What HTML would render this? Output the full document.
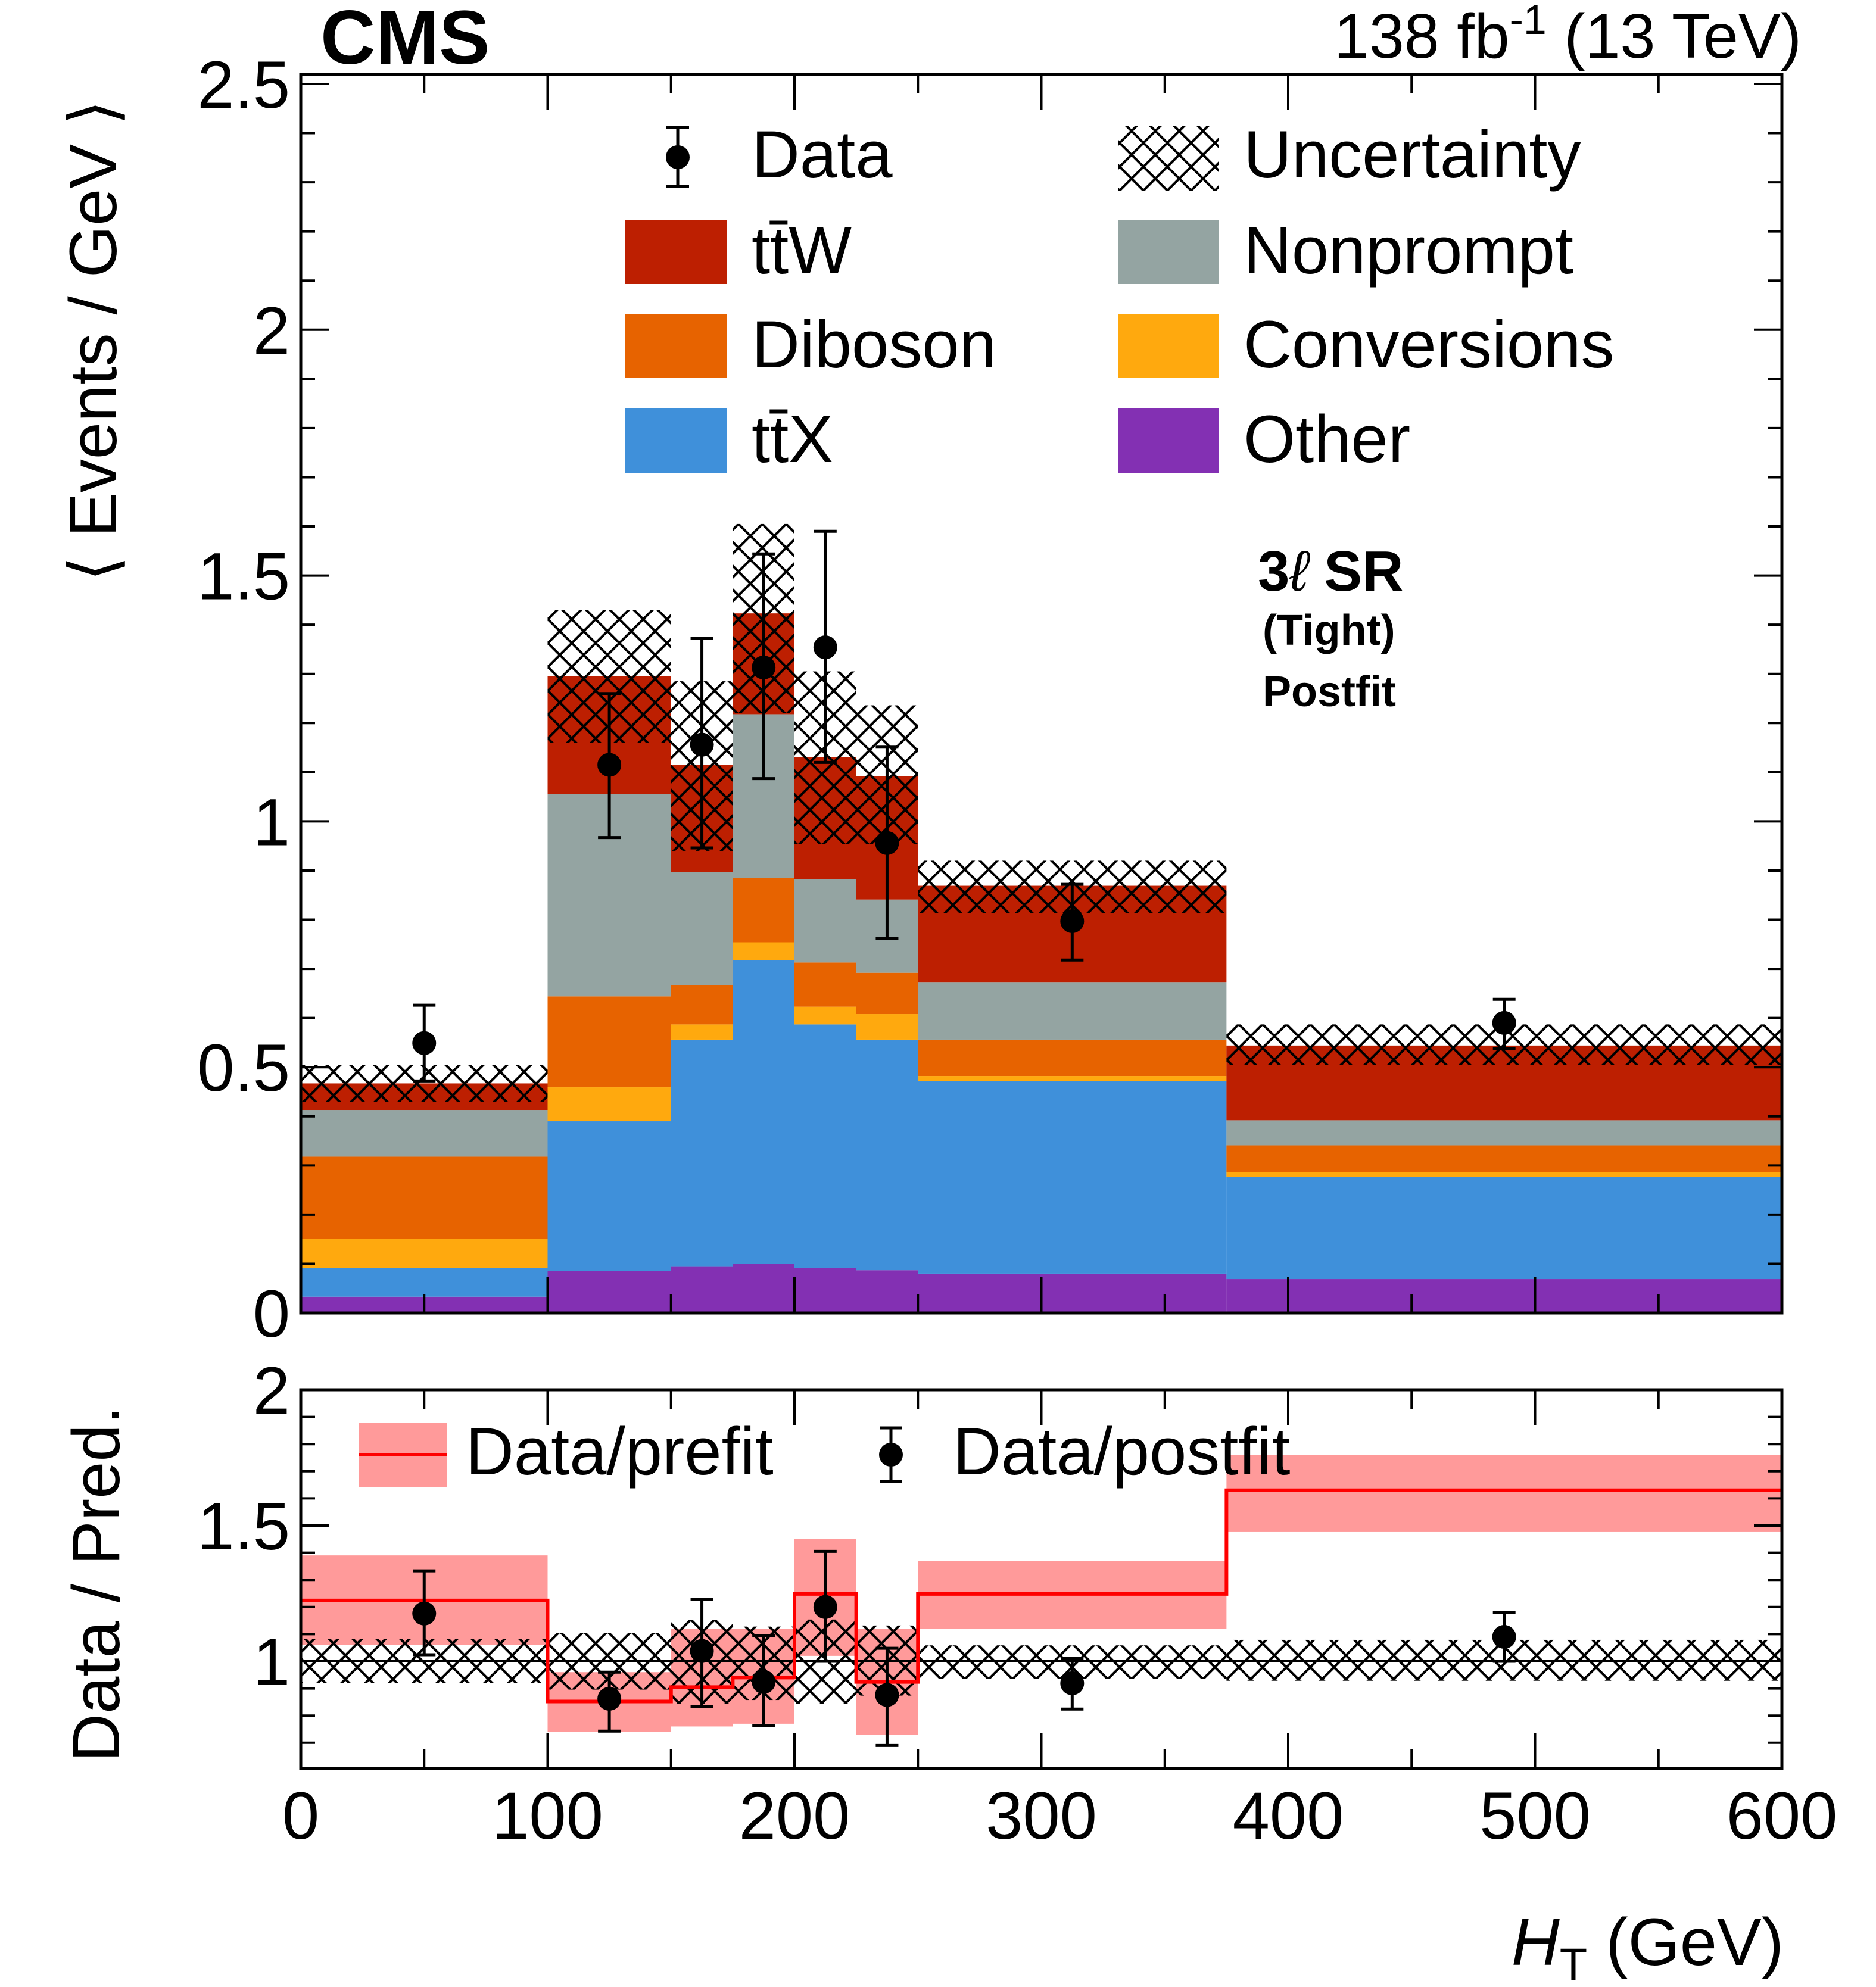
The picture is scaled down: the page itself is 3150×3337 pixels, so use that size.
<!DOCTYPE html>
<html><head><meta charset="utf-8"><style>
html,body{margin:0;padding:0;background:#fff}
svg{display:block}
text{font-family:"Liberation Sans",Arial,sans-serif;fill:#000}
</style></head><body>
<svg id="chart" xmlns="http://www.w3.org/2000/svg" width="3150" height="3337" viewBox="0 0 3150 3337">
<defs>
<pattern id="hatch" patternUnits="userSpaceOnUse" width="40" height="40">
<path d="M-4,-4 L44,44 M-4,44 L44,-4" stroke="#000" stroke-width="4" fill="none"/>
</pattern>
</defs>
<g id="main"></g>
<g id="ratio"></g>
<text x="538" y="107" font-size="128" font-weight="bold">CMS</text>
<text x="3025" y="97" font-size="106" text-anchor="end">138 fb<tspan dy="-40" font-size="70">-1</tspan><tspan dy="40"> (13 TeV)</tspan></text>
<text x="2112" y="992" font-size="96" font-weight="bold">3<tspan font-style="italic" font-weight="normal">ℓ</tspan>  SR</text>
<text x="2120" y="1083" font-size="72" font-weight="bold">(Tight)</text>
<text x="2120" y="1186" font-size="72" font-weight="bold">Postfit</text>
<text transform="translate(195,572) rotate(-90)" font-size="112" text-anchor="middle">⟨ Events / GeV ⟩</text>
<text transform="translate(200,2660) rotate(-90)" font-size="112" text-anchor="middle">Data / Pred.</text>
<text x="2995" y="3300" font-size="112" text-anchor="end"><tspan font-style="italic">H</tspan><tspan font-size="76" dy="25">T</tspan><tspan dy="-25"> (GeV)</tspan></text>
<g id="legend"></g>
</svg>
<script>
const edges=[0,100,150,175,200,225,250,375,600];
const other=[0.033,0.085,0.095,0.100,0.092,0.087,0.080,0.069];
const ttx=[0.059,0.305,0.461,0.618,0.495,0.469,0.392,0.208];
const conv=[0.059,0.069,0.031,0.036,0.036,0.052,0.010,0.010];
const dibo=[0.167,0.185,0.080,0.131,0.090,0.084,0.074,0.054];
const nonp=[0.095,0.412,0.230,0.333,0.169,0.149,0.116,0.051];
const ttw=[0.054,0.239,0.218,0.205,0.249,0.251,0.197,0.152];
const uncLo=[0.43,1.16,0.94,1.22,0.954,0.954,0.813,0.505];
const uncHi=[0.505,1.43,1.285,1.605,1.305,1.236,0.92,0.587];
const dataY=[0.549,1.115,1.156,1.313,1.354,0.956,0.797,0.590];
const dataHi=[0.626,1.26,1.372,1.544,1.59,1.151,0.872,0.638];
const dataLo=[0.472,0.967,0.946,1.087,1.12,0.762,0.718,0.538];
const prefit=[1.224,0.852,0.905,0.94,1.248,0.924,1.248,1.63];
const prefitHi=[1.39,0.96,1.12,1.12,1.45,1.12,1.37,1.76];
const prefitLo=[1.06,0.74,0.76,0.77,1.02,0.73,1.12,1.476];
const postY=[1.176,0.862,1.038,0.924,1.2,0.876,0.919,1.09];
const postHi=[1.333,0.96,1.229,1.095,1.405,1.048,1.01,1.18];
const postLo=[1.024,0.743,0.833,0.762,1.0,0.69,0.824,1.0];
const xTicks=[0,100,200,300,400,500,600];
const yTicks=["0","0.5","1","1.5","2","2.5"];
const rTicks=["1","1.5","2"];

const NS="http://www.w3.org/2000/svg";
const L=505,R=2992,T=125,B=2205,RT=2334,RB=2970;
const X=v=>L+(v-0)/600*(R-L);
const Y=v=>B-v*825.6;
const RY=v=>RT+(2-v)*456;
function mk(tag,parent,attrs){const e=document.createElementNS(NS,tag);for(const k in attrs)e.setAttribute(k,attrs[k]);parent.appendChild(e);return e;}
const main=document.getElementById('main'),ratio=document.getElementById('ratio'),leg=document.getElementById('legend');
const series=[other,ttx,conv,dibo,nonp,ttw];
const names=['other','ttx','conversions','diboson','nonprompt','ttw'];
const cols=['#8330b3','#3f90da','#ffa90e','#e76300','#94a4a2','#bd1f01'];
for(let i=0;i<8;i++){
  let cum=0;
  for(let s=0;s<6;s++){
    const y0=cum;cum+=series[s][i];
    const r=mk('rect',main,{x:X(edges[i]),y:Y(cum),width:X(edges[i+1])-X(edges[i]),height:Y(y0)-Y(cum),fill:cols[s]});
    
    
  }
  const h=mk('rect',main,{x:X(edges[i]),y:Y(uncHi[i]),width:X(edges[i+1])-X(edges[i]),height:Y(uncLo[i])-Y(uncHi[i]),fill:'url(#hatch)'});
  
  
}
function point(parent,xc,y,hi,lo,Yf,nm){
  const g=mk('g',parent,{});
  
  
  mk('line',g,{x1:xc,x2:xc,y1:Yf(hi),y2:Yf(lo),stroke:'#000','stroke-width':5});
  mk('line',g,{x1:xc-19,x2:xc+19,y1:Yf(hi),y2:Yf(hi),stroke:'#000','stroke-width':5});
  mk('line',g,{x1:xc-19,x2:xc+19,y1:Yf(lo),y2:Yf(lo),stroke:'#000','stroke-width':5});
  mk('circle',g,{cx:xc,cy:Yf(y),r:20,fill:'#000'});
}
for(let i=0;i<8;i++)point(main,X((edges[i]+edges[i+1])/2),dataY[i],dataHi[i],dataLo[i],Y,'data-point-bin'+i);
function frame(parent,top,bot){
  mk('rect',parent,{x:L,y:top,width:R-L,height:bot-top,fill:'none',stroke:'#000','stroke-width':5});
}
frame(main,T,B);
for(let v=0;v<=600;v+=50){
  const len=v%100===0?60:32;
  mk('line',main,{x1:X(v),x2:X(v),y1:B,y2:B-len,stroke:'#000','stroke-width':4});
  mk('line',main,{x1:X(v),x2:X(v),y1:T,y2:T+len,stroke:'#000','stroke-width':4});
  mk('line',ratio,{x1:X(v),x2:X(v),y1:RB,y2:RB-len,stroke:'#000','stroke-width':4});
  mk('line',ratio,{x1:X(v),x2:X(v),y1:RT,y2:RT+len,stroke:'#000','stroke-width':4});
}
for(let k=0;k<=25;k++){
  const v=k*0.1,len=k%5===0?47:24;
  mk('line',main,{x1:L,x2:L+len,y1:Y(v),y2:Y(v),stroke:'#000','stroke-width':4});
  mk('line',main,{x1:R,x2:R-len,y1:Y(v),y2:Y(v),stroke:'#000','stroke-width':4});
}
yTicks.forEach(t=>{const e=mk('text',main,{x:487,y:Y(parseFloat(t))+40,'font-size':112,'text-anchor':'end'});e.textContent=t;
  
  });
for(let i=0;i<8;i++){
  const b=mk('rect',ratio,{x:X(edges[i]),y:RY(prefitHi[i]),width:X(edges[i+1])-X(edges[i]),height:RY(prefitLo[i])-RY(prefitHi[i]),fill:'#ff9a9a'});
  
  
}
for(let i=0;i<8;i++){
  const tot=series.reduce((a,s)=>a+s[i],0);
  const h=mk('rect',ratio,{x:X(edges[i]),y:RY(uncHi[i]/tot),width:X(edges[i+1])-X(edges[i]),height:RY(uncLo[i]/tot)-RY(uncHi[i]/tot),fill:'url(#hatch)'});
  
  
}
mk('line',ratio,{x1:L,x2:R,y1:RY(1),y2:RY(1),stroke:'#000','stroke-width':4});
let d='';
for(let i=0;i<8;i++){d+=(i===0?'M':'L')+X(edges[i])+','+RY(prefit[i])+' L'+X(edges[i+1])+','+RY(prefit[i]);}
const pl=mk('path',ratio,{d:d,fill:'none',stroke:'#ff0000','stroke-width':6});


for(let i=0;i<8;i++)point(ratio,X((edges[i]+edges[i+1])/2),postY[i],postHi[i],postLo[i],RY,'postfit-point-bin'+i);
frame(ratio,RT,RB);
for(let k=7;k<=20;k++){
  const v=k*0.1,len=k%5===0?47:24;
  mk('line',ratio,{x1:L,x2:L+len,y1:RY(v),y2:RY(v),stroke:'#000','stroke-width':4});
  mk('line',ratio,{x1:R,x2:R-len,y1:RY(v),y2:RY(v),stroke:'#000','stroke-width':4});
}
rTicks.forEach(t=>{const e=mk('text',ratio,{x:487,y:RY(parseFloat(t))+40,'font-size':112,'text-anchor':'end'});e.textContent=t;
  
  });
xTicks.forEach(t=>{const e=mk('text',ratio,{x:X(t),y:3088,'font-size':112,'text-anchor':'middle'});e.textContent=t;
  
  });
function legText(x,y,s,nm){const e=mk('text',leg,{x:x,y:y,'font-size':112});e.textContent=s;
  
  }
point(leg,1138,0,-0.11,0.11,v=>264+v*450,'legend-data-marker');
legText(1262,298,'Data','legend-data-label');
const lrows=[[369,'#bd1f01','tt̄W'],[527,'#e76300','Diboson'],[686,'#3f90da','tt̄X']];
lrows.forEach((r,i)=>{mk('rect',leg,{x:1050,y:r[0],width:170,height:108,fill:r[1]});legText(1262,r[0]+90,r[2],'legend-label-left-'+i);});
mk('rect',leg,{x:1877,y:212,width:170,height:108,fill:'url(#hatch)'});
legText(2088,298,'Uncertainty','legend-uncertainty-label');
const rrows=[[369,'#94a4a2','Nonprompt'],[527,'#ffa90e','Conversions'],[686,'#8330b3','Other']];
rrows.forEach((r,i)=>{mk('rect',leg,{x:1877,y:r[0],width:170,height:108,fill:r[1]});legText(2088,r[0]+90,r[2],'legend-label-right-'+i);});
mk('rect',leg,{x:602,y:2390,width:148,height:107,fill:'#ff9a9a'});
mk('line',leg,{x1:602,x2:750,y1:2443,y2:2443,stroke:'#ff0000','stroke-width':6});
legText(782,2476,'Data/prefit','legend-prefit-label');
point(leg,1496,0,-0.1,0.1,v=>2443+v*450,'legend-postfit-marker');
legText(1600,2476,'Data/postfit','legend-postfit-label');
</script>
</body></html>
